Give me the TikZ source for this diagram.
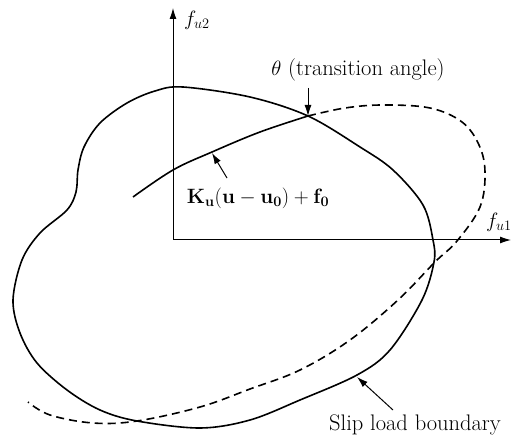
\documentclass[tikz,border=0pt]{standalone}
\usetikzlibrary{arrows.meta}
\begin{document}
\begin{tikzpicture}[x=1pt,y=-1pt,
  curve/.style={line width=1.6pt},
  axisline/.style={line width=1pt,-{Latex[length=11pt,width=7pt]}},
  pointer/.style={line width=1pt,-{Latex[length=11pt,width=7pt]}},
  lbl/.style={inner sep=0pt,font=\fontsize{22.5}{27}\selectfont},
  dashcurve/.style={line width=1.6pt,dash pattern=on 8pt off 5pt}]
\useasboundingbox (0,0) rectangle (511,438);
% axes
\coordinate (O) at (173,240);
\coordinate (Ytip) at (173,8);
\coordinate (Xtip) at (511,240);
\draw[axisline] (O) -- (Ytip);
\draw[axisline] (O) -- (Xtip);
\node[lbl,anchor=west] (fu2) at (184,20) {$f_{u2}$};
\node[lbl,anchor=west] (fu1) at (486,222) {$f_{u1}$};
% slip load boundary
\draw[curve] plot[smooth cycle,tension=0.55] coordinates {
 (183,87) (250,97) (308,116) (360,147) (393,170) (423,205) (433,240)
 (434,262) (422,300) (390,350) (357,375) (300,400) (250,420) (200,428)
 (137,421) (100,410) (67,390) (37,363) (20,333) (13,300) (22,260)
 (40,233) (67,210) (76,192) (78,170) (84,147) (100,123) (127,103) (155,91)};
% K line solid and dashed continuation
\coordinate (X) at (308,116);
\draw[curve] plot[smooth,tension=0.6] coordinates {(133,197) (173,170) (212,152) (260,132) (308,116)};
\draw[dashcurve] plot[smooth,tension=0.6] coordinates {
 (308,116) (345,108) (383,105) (430,108) (462,122) (479,145) (485,172)
 (480,207) (457,241) (435,262) (398,300) (350,340) (300,370) (250,389)
 (200,407) (137,421) (93,423) (50,415) (28,402)};
% labels
\node[lbl] (theta) at (358,70) {$\theta$ (transition angle)};
\draw[pointer] (308,88) -- (X);
\node[lbl] (K) at (258,198) {$\mathbf{K_u}(\mathbf{u}-\mathbf{u_0})+\mathbf{f_0}$};
\coordinate (Kp) at (212,153);
\draw[pointer] (227,178) -- (Kp);
\node[lbl] (slip) at (415,425) {Slip load boundary};
\coordinate (Sp) at (357,377);
\draw[pointer] (393,410) -- (Sp);
\end{tikzpicture}
\end{document}
